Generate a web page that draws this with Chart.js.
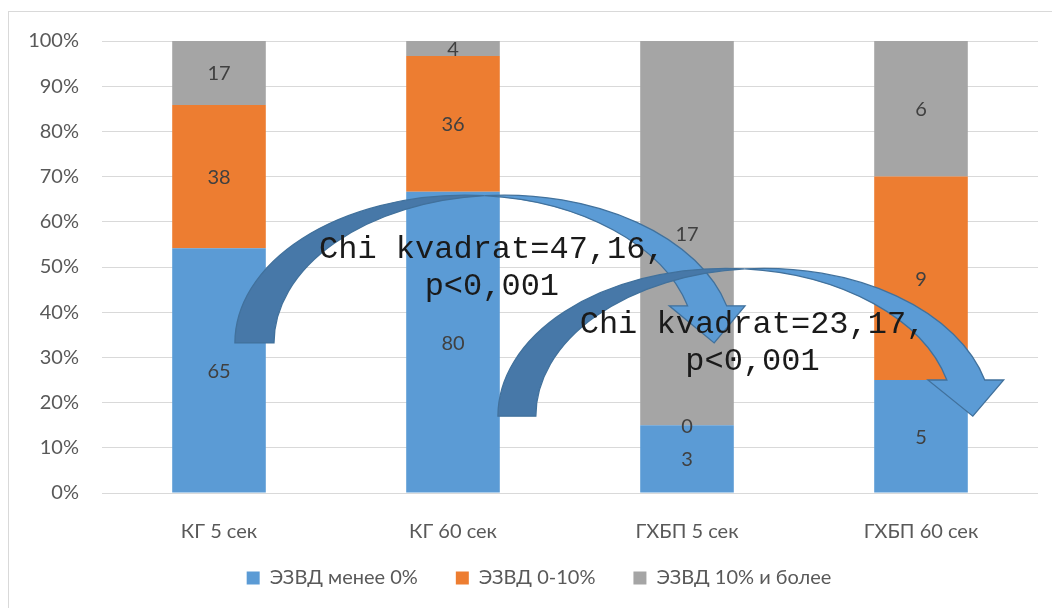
<!DOCTYPE html>
<html>
<head>
<meta charset="utf-8">
<script src="https://cdn.jsdelivr.net/npm/chart.js@4.4.0/dist/chart.umd.min.js"></script>
<style>
  html, body { margin: 0; padding: 0; background: #ffffff; }
  #wrap { width: 1052px; height: 608px; }
</style>
</head>
<body>
<div id="wrap"><canvas id="c" width="1052" height="608"></canvas></div>
<script>
// Groups and the number of patients in each ЭЗВД band
const categories = ['КГ 5 сек', 'КГ 60 сек', 'ГХБП 5 сек', 'ГХБП 60 сек'];
const seriesNames = ['ЭЗВД менее 0%', 'ЭЗВД 0-10%', 'ЭЗВД 10% и более'];
const countsBelow0 = [65, 80, 3, 5];
const counts0to10 = [38, 36, 0, 9];
const counts10plus = [17, 4, 17, 6];
const percentTicks = [0, 10, 20, 30, 40, 50, 60, 70, 80, 90, 100];
const chiTexts = [
  ['Chi kvadrat=47,16,', 'p<0,001'],
  ['Chi kvadrat=23,17,', 'p<0,001']
];

const seriesColors = ['#5B9BD5', '#ED7D31', '#A5A5A5'];
const allCounts = [countsBelow0, counts0to10, counts10plus];
const totals = categories.map((_, i) => allCounts.reduce((s, arr) => s + arr[i], 0));
const toShare = arr => arr.map((v, i) => v / totals[i] * 100);

// Curved comparison arrows: x in category units, y in percent
const chiArrows = [
  { x0: 0.068, th: 0.167, wR: 0.983, base: 33.2, rise: 32.7, head: 8.2, headHalf: 0.162, tip: 0.03,
    text: { x: 1.166, y1: 52.0, y2: 43.8 } },
  { x0: 1.192, th: 0.162, wR: 0.974, base: 17.0, rise: 32.7, head: 8.0, headHalf: 0.162, tip: 0.03,
    text: { x: 2.28, y1: 35.4, y2: 27.2 } }
];

const uiFont = 'Lato';
const uiSize = 20;

const frame = {
  id: 'frame',
  beforeDraw(chart) {
    const ctx = chart.ctx;
    ctx.save();
    ctx.fillStyle = '#ffffff';
    ctx.fillRect(0, 0, chart.width, chart.height);
    ctx.strokeStyle = '#D9D9D9';
    ctx.lineWidth = 1;
    ctx.strokeRect(8.5, 11.5, chart.width + 20, chart.height + 20);
    ctx.restore();
  },
  afterLayout(chart) {
    // place the legend row under the axis labels
    const lg = chart.legend;
    lg.left += 16; lg.right += 16;
    lg.top -= 10; lg.bottom -= 10;
  }
};

const countLabels = {
  id: 'countLabels',
  afterDatasetsDraw(chart) {
    const ctx = chart.ctx;
    ctx.save();
    ctx.font = uiSize + 'px ' + uiFont;
    ctx.fillStyle = '#404040';
    ctx.textAlign = 'center';
    ctx.textBaseline = 'middle';
    chart.data.datasets.forEach((ds, di) => {
      const meta = chart.getDatasetMeta(di);
      meta.data.forEach((bar, i) => {
        const p = bar.getProps(['x', 'y', 'base'], true);
        ctx.fillText(String(ds.counts[i]), p.x, (p.y + p.base) / 2 + 1);
      });
    });
    ctx.restore();
  }
};

function drawArrow(ctx, a, X, Y) {
  const x0 = X(a.x0);
  const th = X(a.x0 + a.th) - x0;
  const wR = X(a.x0 + a.wR) - x0;
  const yb = Y(a.base);
  const H = Y(0) - Y(a.rise);
  const ah = Y(0) - Y(a.head);
  const hw = X(a.headHalf) - X(0);
  const tipShift = X(a.tip) - X(0);
  const cxo = x0 + wR, cxi = x0 + th + wR;
  const ac = Math.acos(th / (2 * wR));
  const bh = Math.asin(ah / H);
  const dx = wR * Math.cos(bh);
  const xo = cxo + dx, xi = cxi + dx, yh = yb - ah, xm = (xo + xi) / 2;

  ctx.lineWidth = 1.3;
  ctx.strokeStyle = '#41719C';
  ctx.lineJoin = 'miter';

  // shaded back part rising from the tail
  ctx.beginPath();
  ctx.ellipse(cxo, yb, wR, H, 0, Math.PI, 2 * Math.PI - ac, false);
  ctx.ellipse(cxi, yb, wR, H, 0, Math.PI + ac, Math.PI, true);
  ctx.closePath();
  ctx.fillStyle = '#4778A8';
  ctx.fill();
  ctx.stroke();

  // front part running down into the head
  ctx.beginPath();
  ctx.ellipse(cxi, yb, wR, H, 0, Math.PI + ac, 2 * Math.PI - bh, false);
  ctx.lineTo(xm + hw, yh);
  ctx.lineTo(xm + tipShift, yb);
  ctx.lineTo(xm - hw, yh);
  ctx.lineTo(xo, yh);
  ctx.ellipse(cxo, yb, wR, H, 0, 2 * Math.PI - bh, 2 * Math.PI - ac, true);
  ctx.closePath();
  ctx.fillStyle = '#5B9BD5';
  ctx.fill();
  ctx.stroke();
}

const chiOverlay = {
  id: 'chiOverlay',
  afterDraw(chart) {
    const ctx = chart.ctx;
    const xs = chart.scales.x, ys = chart.scales.y;
    const c0 = xs.getPixelForValue(0), cw = xs.getPixelForValue(1) - c0;
    const X = v => c0 + v * cw;
    const Y = v => ys.getPixelForValue(v);
    ctx.save();
    chiArrows.forEach((a, k) => {
      drawArrow(ctx, a, X, Y);
      ctx.font = '32px "Liberation Mono"';
      ctx.fillStyle = '#1a1a1a';
      ctx.textAlign = 'center';
      ctx.textBaseline = 'alphabetic';
      ctx.fillText(chiTexts[k][0], X(a.text.x), Y(a.text.y1));
      ctx.fillText(chiTexts[k][1], X(a.text.x), Y(a.text.y2));
    });
    ctx.restore();
  }
};

new Chart(document.getElementById('c'), {
  type: 'bar',
  data: {
    labels: categories,
    datasets: allCounts.map((arr, k) => ({
      label: seriesNames[k],
      data: toShare(arr),
      counts: arr,
      backgroundColor: seriesColors[k],
      borderWidth: 0,
      barPercentage: 0.4,
      categoryPercentage: 1.0
    }))
  },
  options: {
    responsive: false,
    devicePixelRatio: 1,
    animation: false,
    layout: { padding: { left: 8, right: 14, top: 41, bottom: 0 } },
    scales: {
      x: {
        stacked: true,
        grid: { display: false },
        border: { display: false },
        ticks: { color: '#595959', font: { family: uiFont, size: uiSize }, padding: 19 },
        afterFit: s => { s.height = 47; }
      },
      y: {
        stacked: true,
        min: 0,
        max: 100,
        afterBuildTicks: s => { s.ticks = percentTicks.map(v => ({ value: v })); },
        ticks: {
          color: '#595959',
          font: { family: uiFont, size: uiSize },
          padding: 23,
          callback: v => v + '%'
        },
        grid: { color: '#D9D9D9', lineWidth: 1, drawTicks: false },
        border: { display: false },
        afterFit: s => { s.width = 94; }
      }
    },
    plugins: {
      legend: {
        position: 'bottom',
        labels: {
          boxWidth: 13,
          boxHeight: 13,
          padding: 38,
          color: '#595959',
          font: { family: uiFont, size: uiSize }
        }
      },
      tooltip: { enabled: false }
    }
  },
  plugins: [frame, countLabels, chiOverlay]
});
</script>
</body>
</html>
